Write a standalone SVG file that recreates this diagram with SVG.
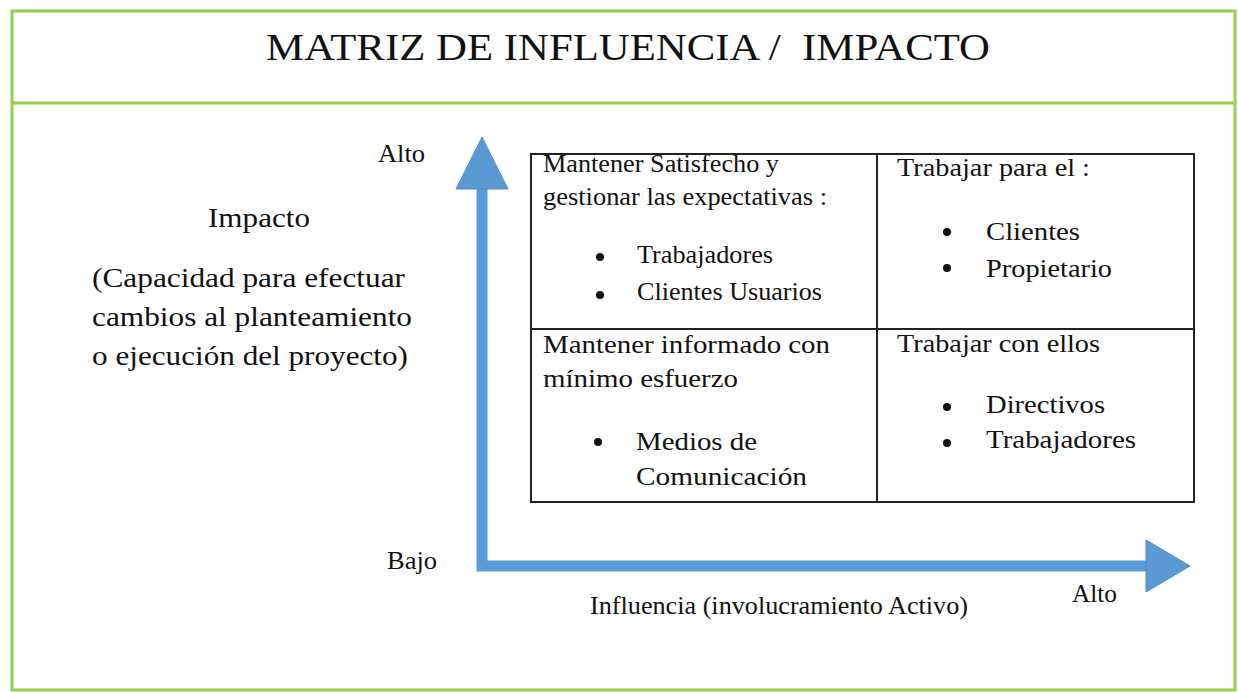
<svg xmlns="http://www.w3.org/2000/svg" width="1238" height="692" viewBox="0 0 1238 692">
<style>
  text { font-family: "Liberation Serif", "Times New Roman", serif; fill: #111; }
  .t24 { font-size: 25px; }
  .t26 { font-size: 28px; }
  .frame { fill: none; stroke: #92D050; stroke-width: 3; }
  .cell { fill: #fff; stroke: #222; stroke-width: 2; }
  .bullet { fill: #111; }
  .axis { fill: none; stroke: #5B9BD5; stroke-width: 11; stroke-linejoin: miter; }
  .head { fill: #5B9BD5; stroke: #4F8BC6; stroke-width: 1; }
</style>
<rect width="1238" height="692" fill="#fff"/>
<g id="frame">
  <rect class="frame" x="12" y="11" width="1223" height="679"/>
  <line class="frame" x1="12" y1="103" x2="1235" y2="103"/>
</g>
<g id="title">
  <text x="266" y="60" style="font-size:38px; white-space:pre" xml:space="preserve" textLength="724" lengthAdjust="spacingAndGlyphs">MATRIZ DE INFLUENCIA /  IMPACTO</text>
</g>
<g id="connectors">
  <path class="axis" d="M482,189 L482,566 L1147,566"/>
  <polygon class="head" points="482,137 508,189 456,189"/>
  <polygon class="head" points="1190,566 1146,540 1146,592"/>
</g>
<g id="y-axis-labels">
  <text class="t24" x="378" y="162" textLength="47" lengthAdjust="spacingAndGlyphs">Alto</text>
  <text class="t24" x="387" y="569" textLength="50" lengthAdjust="spacingAndGlyphs">Bajo</text>
  <text class="t26" x="208" y="227" textLength="102" lengthAdjust="spacingAndGlyphs">Impacto</text>
  <text class="t26" x="92" y="287" textLength="313" lengthAdjust="spacingAndGlyphs">(Capacidad para efectuar</text>
  <text class="t26" x="92" y="326" textLength="320" lengthAdjust="spacingAndGlyphs">cambios al planteamiento</text>
  <text class="t26" x="92" y="365" textLength="316" lengthAdjust="spacingAndGlyphs">o ejecución del proyecto)</text>
</g>
<g id="x-axis-labels">
  <text class="t24" x="1072" y="602" textLength="45" lengthAdjust="spacingAndGlyphs">Alto</text>
  <text class="t24" x="590" y="614" textLength="378" lengthAdjust="spacingAndGlyphs">Influencia (involucramiento Activo)</text>
</g>
<g id="matrix">
  <rect class="cell" x="531" y="154" width="663" height="348"/>
  <line class="cell" x1="877" y1="154" x2="877" y2="502"/>
  <line class="cell" x1="531" y1="329" x2="1194" y2="329"/>
</g>
<g id="cell-top-left">
  <text class="t24" x="543" y="172" textLength="236" lengthAdjust="spacingAndGlyphs">Mantener Satisfecho y</text>
  <text class="t24" x="543" y="205" textLength="284" lengthAdjust="spacingAndGlyphs">gestionar las expectativas :</text>
  <circle class="bullet" cx="600" cy="257" r="4"/>
  <text class="t24" x="637" y="263" textLength="136" lengthAdjust="spacingAndGlyphs">Trabajadores</text>
  <circle class="bullet" cx="600" cy="295" r="4"/>
  <text class="t24" x="637" y="300" textLength="185" lengthAdjust="spacingAndGlyphs">Clientes Usuarios</text>
</g>
<g id="cell-top-right">
  <text class="t24" x="897" y="176" textLength="193" lengthAdjust="spacingAndGlyphs">Trabajar para el :</text>
  <circle class="bullet" cx="947" cy="232" r="4"/>
  <text class="t24" x="986" y="240" textLength="94" lengthAdjust="spacingAndGlyphs">Clientes</text>
  <circle class="bullet" cx="947" cy="268" r="4"/>
  <text class="t24" x="986" y="277" textLength="126" lengthAdjust="spacingAndGlyphs">Propietario</text>
</g>
<g id="cell-bottom-left">
  <text class="t24" x="543" y="353" textLength="287" lengthAdjust="spacingAndGlyphs">Mantener informado con</text>
  <text class="t24" x="543" y="387" textLength="195" lengthAdjust="spacingAndGlyphs">mínimo esfuerzo</text>
  <circle class="bullet" cx="598" cy="442" r="4"/>
  <text class="t24" x="636" y="450" textLength="121" lengthAdjust="spacingAndGlyphs">Medios de</text>
  <text class="t24" x="636" y="485" textLength="171" lengthAdjust="spacingAndGlyphs">Comunicación</text>
</g>
<g id="cell-bottom-right">
  <text class="t24" x="897" y="352" textLength="203" lengthAdjust="spacingAndGlyphs">Trabajar con ellos</text>
  <circle class="bullet" cx="947" cy="407" r="4"/>
  <text class="t24" x="986" y="413" textLength="119" lengthAdjust="spacingAndGlyphs">Directivos</text>
  <circle class="bullet" cx="947" cy="443" r="4"/>
  <text class="t24" x="986" y="448" textLength="150" lengthAdjust="spacingAndGlyphs">Trabajadores</text>
</g>
</svg>
